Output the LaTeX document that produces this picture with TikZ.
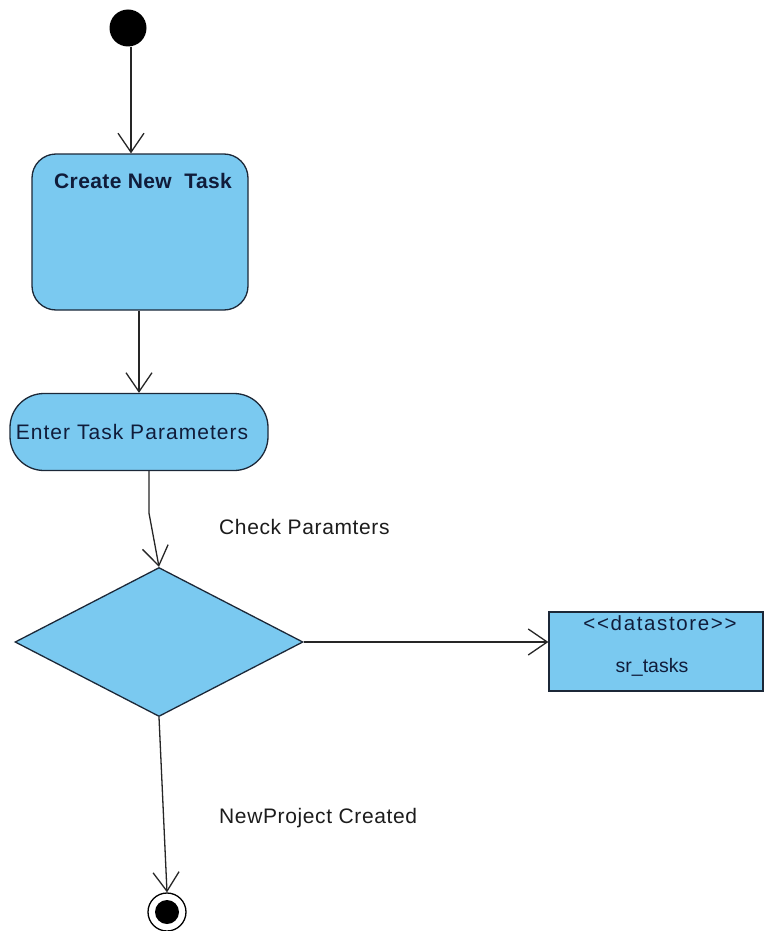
\documentclass[tikz,border=0pt]{standalone}
\usepackage{fontspec}
\setmainfont{Liberation Sans}
\usetikzlibrary{arrows.meta,shapes.geometric}

\definecolor{actfill}{RGB}{122,201,240}
\definecolor{actline}{RGB}{28,40,56}
\definecolor{acttext}{RGB}{16,28,58}
\definecolor{labeltext}{RGB}{28,28,28}

\tikzset{
  flow/.style={draw=black!85, line width=1.3pt,
    -{Straight Barb[length=19pt,width=26pt,line width=1.3pt]}},
  activity/.style={draw=actline, fill=actfill, line width=1.3pt, inner sep=0pt},
  nodetext/.style={text=acttext, inner sep=0pt},
  flowlabel/.style={text=labeltext, inner sep=0pt, anchor=west,
    font=\fontsize{21}{25}\selectfont\addfontfeatures{LetterSpace=3}}
}

\begin{document}
\begin{tikzpicture}[x=1pt,y=-1pt]
  % canvas
  \fill[white] (0,0) rectangle (764,931);
  \useasboundingbox (0,0) rectangle (764,931);

  % initial node
  \node[circle, fill=black, minimum size=37pt, inner sep=0pt] (start) at (128,28) {};

  % Create New Task
  \node[activity, rectangle, rounded corners=24pt, minimum width=216pt, minimum height=156pt]
    (create) at (140,232) {};
  \node[nodetext, font=\fontsize{21}{25}\selectfont\bfseries\addfontfeatures{LetterSpace=2}]
    (createlabel) at (143,181) {Create New\ \ Task};

  % Enter Task Parameters
  \node[activity, rectangle, rounded corners=34pt, minimum width=258pt, minimum height=77pt]
    (enter) at (139,432) {};
  \node[nodetext, font=\fontsize{21}{25}\selectfont\addfontfeatures{LetterSpace=5}]
    (enterlabel) at (132,432) {Enter Task Parameters};

  % decision
  \node[activity, diamond, minimum width=288pt, minimum height=149pt]
    (decision) at (159,642) {};

  % datastore
  \node[activity, rectangle, minimum width=214pt, minimum height=79pt]
    (store) at (656,651.5) {};
  \node[nodetext, font=\fontsize{20.5}{24}\selectfont\addfontfeatures{LetterSpace=8}]
    (storetype) at (660,623) {<{}<datastore>{}>};
  \node[nodetext, font=\fontsize{19.5}{24}\selectfont]
    (storename) at (652,667) {sr\_tasks};

  % final node
  \node[circle, draw=black, line width=1.3pt, fill=white, minimum size=38pt, inner sep=0pt]
    (end) at (167,912) {};
  \node[circle, fill=black, minimum size=24pt, inner sep=0pt] (endcore) at (end) {};

  % flows
  \draw[flow] ([xshift=3pt]start.south) -- ([xshift=3pt]start.south |- create.north);
  \draw[flow] (create.south -| enter.north) -- (enter.north);
  \draw[flow] ([xshift=10pt]enter.south) -- ++(0,42) -- (decision.north);
  \draw[flow] (decision.east) -- (decision.east -| store.west);
  \draw[flow] (decision.south) -- (end.north);

  % flow labels
  \node[flowlabel] (checklabel) at (219,527) {Check Paramters};
  \node[flowlabel] (createdlabel) at (219,818) {NewProject Created};
\end{tikzpicture}
\end{document}
